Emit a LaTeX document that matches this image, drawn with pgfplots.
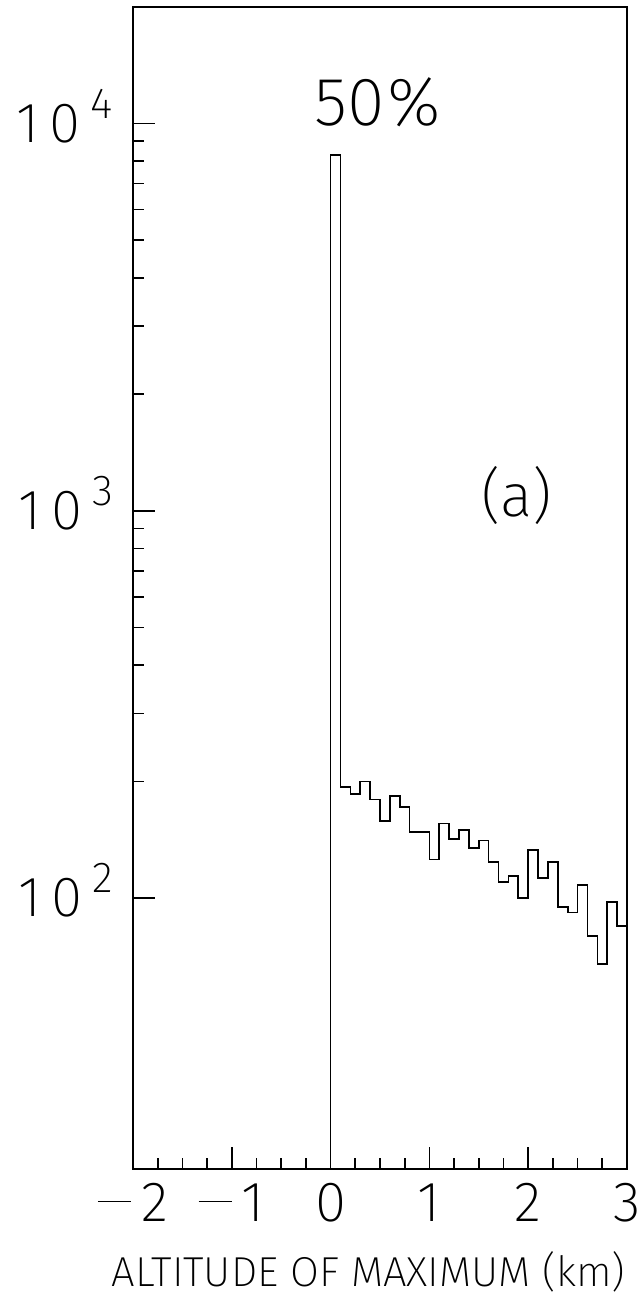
\documentclass[border=0pt]{standalone}
\usepackage{fontspec}
\setmainfont{Fira Sans ExtraLight}
\usepackage{pgfplots}
\pgfplotsset{compat=1.18}
\newcommand{\tenpow}[1]{1\kern3pt0\kern3pt\raisebox{7.2pt}{\fontsize{13}{13}\selectfont #1}}
\newcommand{\mn}{\rule[5.8pt]{10pt}{0.35pt}\kern3pt}
\begin{document}
\begin{tikzpicture}
\useasboundingbox (-39.9pt,-38.4pt) rectangle (153pt,350.7pt);
\begin{axis}[
  at={(0,0)}, anchor=south west,
  scale only axis, width=148.2pt, height=348.6pt,
  ymode=log, xmin=-2, xmax=3, ymin=20, ymax=20000,
  axis line style={line width=0.7pt},
  xtick={-2,-1,0,1,2,3},
  xticklabels={{\mn 2},{\mn 1},0,1,2,3},
  minor x tick num=3,
  ytick={100,1000,10000},
  yticklabels={{\tenpow{2}},{\tenpow{3}},{\tenpow{4}}},
  tick align=inside,
  xtick pos=bottom, ytick pos=left,
  major tick length=6.6pt, minor tick length=3.3pt,
  tick style={line width=0.5pt, black},
  xticklabel style={font=\fontsize{17}{20}\selectfont, anchor=base, inner sep=0pt, yshift=-15.7pt},
  yticklabel style={font=\fontsize{17}{20}\selectfont, anchor=base east, inner sep=0pt, xshift=-5.8pt, yshift=-5.6pt},
  xlabel={ALTITUDE OF MAXIMUM (km)},
  xlabel style={font=\fontsize{12.55}{15}\selectfont, at={(axis description cs:0.4767,0)}, anchor=base, inner sep=0pt, yshift=-35.3pt},
  clip=true,
]
\addplot[const plot mark left, line width=0.5pt, black] coordinates {
(0,10) (0.0,8300) (0.1,194) (0.2,186) (0.3,200) (0.4,180) (0.5,158) (0.6,184)
(0.7,172) (0.8,148) (0.9,148) (1.0,126) (1.1,156) (1.2,142) (1.3,150)
(1.4,135) (1.5,141) (1.6,124) (1.7,110) (1.8,114) (1.9,100) (2.0,133)
(2.1,113) (2.2,124) (2.3,94.8) (2.4,91.8) (2.5,108) (2.6,79.8) (2.7,67.6)
(2.8,97.7) (2.9,84.7) (3.0,84.7)
};
\node[font=\fontsize{20.5}{24}\selectfont] at (axis cs:0.477,11330) {50\kern1pt\%};
\node[font=\fontsize{18}{21}\selectfont] at (axis cs:1.886,1093) {(a)};
\end{axis}
\end{tikzpicture}
\end{document}
